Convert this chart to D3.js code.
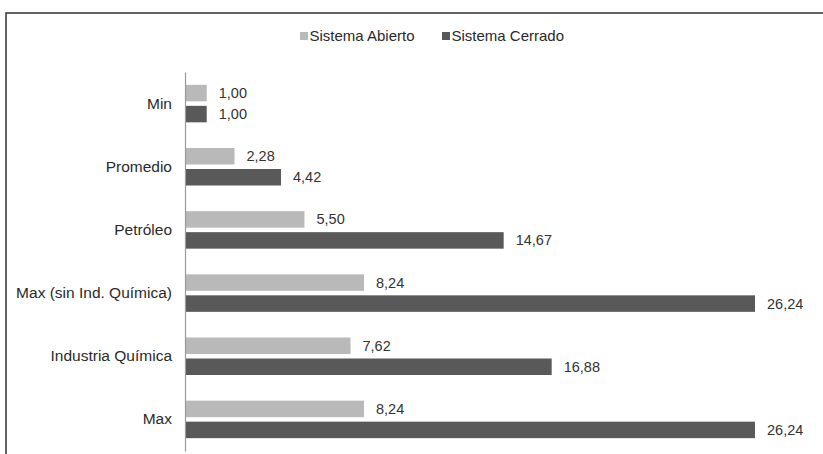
<!DOCTYPE html>
<html>
<head>
<meta charset="utf-8">
<script src="https://cdn.jsdelivr.net/npm/d3@7/dist/d3.min.js"></script>
<style>
  html, body { margin: 0; padding: 0; background: #fff; }
  svg { display: block; }
  text { font-family: "Liberation Sans", Arial, sans-serif; }
</style>
</head>
<body>
<svg id="chart" width="823" height="454"></svg>
<script>
// Categories (top to bottom) and values per system
const categories = ["Min", "Promedio", "Petróleo", "Max (sin Ind. Química)", "Industria Química", "Max"];
const seriesNames = ["Sistema Abierto", "Sistema Cerrado"];
const abierto = [1.00, 2.28, 5.50, 8.24, 7.62, 8.24];
const cerrado = [1.00, 4.42, 14.67, 26.24, 16.88, 26.24];
const seriesColors = ["#b9b9b9", "#595959"];

const svg = d3.select("#chart");
const W = 823, H = 454;

// Outer frame (only top and left edges fall inside the canvas)
svg.append("rect")
  .attr("x", 6).attr("y", 13)
  .attr("width", W + 20).attr("height", H + 20)
  .attr("fill", "#fff")
  .attr("stroke", "#3c3c3c")
  .attr("stroke-width", 1.6);

const x = d3.scaleLinear().domain([0, 26.24]).range([185, 755]);
const y = d3.scaleBand().domain(categories).range([72, 451]).padding(0);

const barH = 16.5, gap = 4.5;
const offsets = [-gap / 2 - barH, gap / 2];

const fmt = v => d3.format(".2f")(v).replace(".", ",");

const data = [];
categories.forEach((c, i) => {
  [abierto[i], cerrado[i]].forEach((v, s) => data.push({ cat: c, s, v }));
});

// Bars
svg.append("g").selectAll("rect")
  .data(data)
  .join("rect")
  .attr("x", x(0))
  .attr("y", d => y(d.cat) + y.bandwidth() / 2 + offsets[d.s])
  .attr("width", d => x(d.v) - x(0))
  .attr("height", barH)
  .attr("fill", d => seriesColors[d.s]);

// Value labels
svg.append("g").selectAll("text")
  .data(data)
  .join("text")
  .attr("x", d => x(d.v) + 12)
  .attr("y", d => y(d.cat) + y.bandwidth() / 2 + offsets[d.s] + barH / 2)
  .attr("dy", "0.35em")
  .attr("font-size", 14.5)
  .attr("fill", "#333")
  .text(d => fmt(d.v));

// Category axis
const axis = svg.append("g")
  .attr("transform", `translate(${x(0)},0)`)
  .call(d3.axisLeft(y).tickSize(0).tickPadding(13));
axis.select(".domain").attr("stroke", "#9a9a9a").attr("stroke-width", 1.2);
axis.selectAll("text")
  .attr("font-size", 15.5)
  .attr("fill", "#2a2a2a")
  .attr("font-family", "'Liberation Sans', Arial, sans-serif");

// Legend
const legendX = [300, 442];
const legend = svg.append("g");
seriesNames.forEach((name, i) => {
  legend.append("rect")
    .attr("x", legendX[i]).attr("y", 32)
    .attr("width", 8).attr("height", 8)
    .attr("fill", seriesColors[i]);
  legend.append("text")
    .attr("x", legendX[i] + 9.5).attr("y", 36)
    .attr("dy", "0.35em")
    .attr("font-size", 15)
    .attr("fill", "#2a2a2a")
    .text(name);
});
</script>
</body>
</html>
